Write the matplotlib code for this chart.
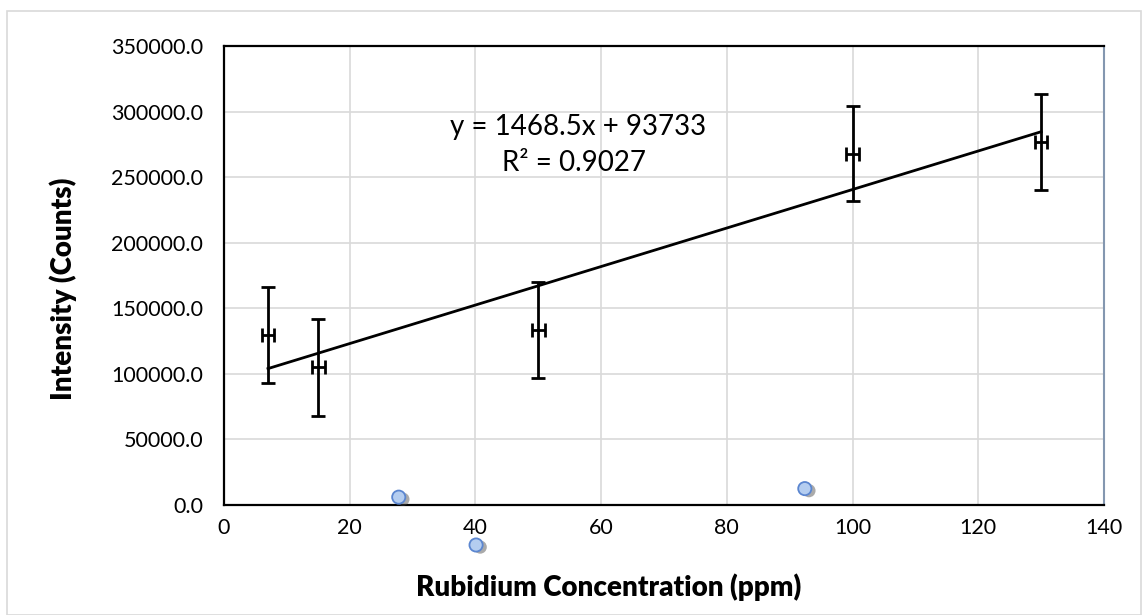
import matplotlib
matplotlib.use("Agg")
import matplotlib.pyplot as plt
from matplotlib.patches import Rectangle
import matplotlib.patheffects as pe
import numpy as np

plt.rcParams['font.family'] = ['Lato', 'DejaVu Sans']

# Calibration data (with error bars)
conc = [7, 15, 50, 100, 130]
intensity = [129500, 105000, 133500, 268000, 277000]
y_err = [36500, 37000, 36500, 36500, 36500]
x_err = [1, 1, 1, 1, 1]

# Unknown samples
sample_conc = [27.8, 40.1, 92.4]
sample_int = [6000, -30500, 12500]

# Trendline
slope = 1468.5
intercept = 93733
r2 = 0.9027

x_ticks = [0, 20, 40, 60, 80, 100, 120, 140]
y_ticks = [0, 50000, 100000, 150000, 200000, 250000, 300000, 350000]

fig = plt.figure(figsize=(11.48, 6.15), dpi=100)
ax = fig.add_axes([224/1148, 1 - 505/615, 880/1148, 459/615])

# outer chart border
fig.patches.append(Rectangle((7/1148, 0), 1134/1148, 1 - 11/615, transform=fig.transFigure,
                             fill=False, edgecolor='#d9d9d9', linewidth=1.2, zorder=0))

ax.errorbar(conc, intensity, yerr=y_err, xerr=x_err, fmt='none', ecolor='black',
            elinewidth=2, capsize=5, capthick=2, zorder=3)

tx = np.array([min(conc), max(conc)])
ax.plot(tx, slope * tx + intercept, color='black', linewidth=2, zorder=4)

ax.plot(sample_conc, sample_int, linestyle='none', marker='o', markersize=9.5,
        markerfacecolor='#b4cdf0', markeredgecolor='#5b86d0', markeredgewidth=1.3,
        clip_on=False, zorder=5,
        path_effects=[pe.SimplePatchShadow(offset=(3, -1.5), shadow_rgbFace='#444444', alpha=0.45),
                      pe.Normal()])

ax.set_xlim(0, 140)
ax.set_ylim(0, 350000)
ax.set_xticks(x_ticks)
ax.set_yticks(y_ticks)
ax.set_yticklabels([f"{v:.1f}" for v in y_ticks])
ax.tick_params(length=0, labelsize=15.5)
ax.tick_params(axis='y', pad=15)
ax.tick_params(axis='x', pad=9)
ax.grid(True, color='#d9d9d9', linewidth=1.2)
ax.set_axisbelow(True)

for s in ['left', 'bottom', 'top']:
    ax.spines[s].set_color('black')
    ax.spines[s].set_linewidth(1.6)
ax.spines['right'].set_color('#8497b0')
ax.spines['right'].set_linewidth(1.5)

ax.set_xlabel('Rubidium Concentration (ppm)', fontsize=20, fontweight='heavy',
              va='center', ha='center')
ax.set_ylabel('Intensity (Counts)', fontsize=20, fontweight='heavy',
              va='center', ha='center')
ax.xaxis.set_label_coords((609 - 224) / 880, -(587 - 505) / 459)
ax.yaxis.set_label_coords((63 - 224) / 880, (505 - 289) / 459)

ax.text(578/1148, 1 - 127/615, f"y = {slope}x + {intercept}", transform=fig.transFigure,
        ha='center', va='center', fontsize=20)
ax.text(574/1148, 1 - 163/615, f"R² = {r2}", transform=fig.transFigure,
        ha='center', va='center', fontsize=20)

fig.savefig('out.png', dpi=100)
